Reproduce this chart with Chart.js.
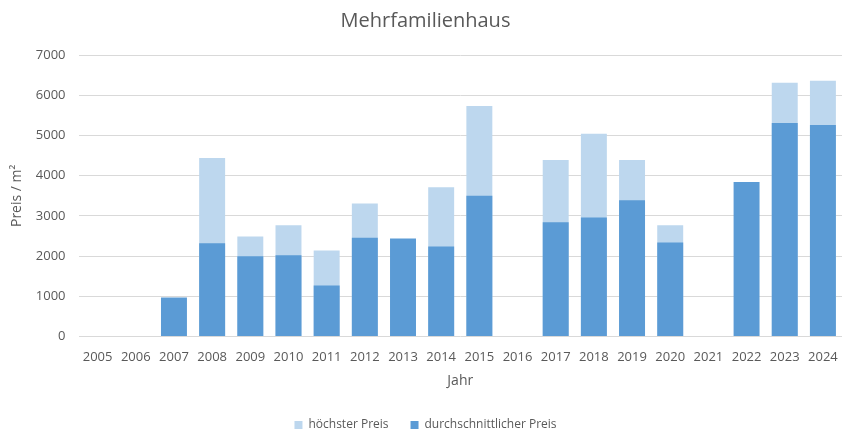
<!DOCTYPE html>
<html>
<head>
<meta charset="utf-8">
<script src="https://cdn.jsdelivr.net/npm/chart.js@4.4.1/dist/chart.umd.min.js"></script>
<style>
    html, body { margin: 0; padding: 0; background: #fff; }
    #wrap { width: 850px; height: 433px; }
</style>
</head>
<body>
<div id="wrap"><canvas id="chart"></canvas></div>
<script>
// years on the x axis
const years = ["2005","2006","2007","2008","2009","2010","2011","2012","2013","2014",
    "2015","2016","2017","2018","2019","2020","2021","2022","2023","2024"];

// highest price per m2 (light bars)
const maxPrice = [null, null, null, 4440, 2490, 2770, 2140, 3310, null, 3710,
    5730, null, 4390, 5040, 4390, 2770, null, null, 6310, 6360];

// average price per m2 (dark bars)
const avgPrice = [null, null, 975, 2320, 2000, 2020, 1270, 2460, 2440, 2240,
    3500, null, 2840, 2960, 3390, 2340, null, 3840, 5310, 5260];

const yTicks = [0, 1000, 2000, 3000, 4000, 5000, 6000, 7000];

const grey = "#595959";
const font = "'Open Sans', sans-serif";

const ctx = document.getElementById("chart");

new Chart(ctx, {
    type: "bar",
    data: {
        labels: years,
        datasets: [{
            label: "höchster Preis",
            data: maxPrice,
            backgroundColor: "#bdd7ee",
            grouped: false,
            order: 1
        }, {
            label: "durchschnittlicher Preis",
            data: avgPrice,
            backgroundColor: "#5b9bd5",
            grouped: false,
            order: 0
        }]
    },
    options: {
        responsive: true,
        maintainAspectRatio: false,
        animation: false,
        layout: { padding: { left: 9, right: 8, top: 6, bottom: -8 } },
        datasets: {
            bar: { categoryPercentage: 1, barPercentage: 0.68 }
        },
        plugins: {
            title: {
                display: true,
                text: "Mehrfamilienhaus",
                color: grey,
                font: { family: font, size: 20, weight: "normal" },
                padding: { top: 3, bottom: 22 }
            },
            legend: {
                position: "bottom",
                labels: {
                    color: grey,
                    boxWidth: 8,
                    boxHeight: 8,
                    padding: 22,
                    font: { family: font, size: 12 },
                    sort: (a, b) => a.datasetIndex - b.datasetIndex
                }
            },
            tooltip: { enabled: false }
        },
        scales: {
            x: {
                grid: { display: false },
                border: { display: false },
                ticks: {
                    color: grey,
                    font: { family: font, size: 13 },
                    maxRotation: 0,
                    autoSkip: false,
                    padding: 5
                },
                title: {
                    display: true,
                    text: "Jahr",
                    color: grey,
                    font: { family: font, size: 14 },
                    padding: { top: 2, bottom: 8 }
                }
            },
            y: {
                min: 0,
                max: 7000,
                afterBuildTicks: axis => {
                    axis.ticks = yTicks.map(v => ({ value: v }));
                },
                grid: { color: "#d9d9d9", drawTicks: false },
                border: { display: false },
                ticks: {
                    color: grey,
                    font: { family: font, size: 13 },
                    padding: 13,
                    callback: v => String(v)
                },
                title: {
                    display: true,
                    text: "Preis / m²",
                    color: grey,
                    font: { family: font, size: 14 },
                    padding: { top: 0, bottom: -3 }
                }
            }
        }
    }
});
</script>
</body>
</html>
